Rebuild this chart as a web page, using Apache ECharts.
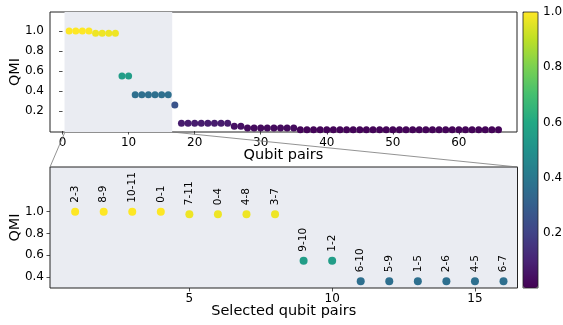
<!DOCTYPE html>
<html>
<head>
<meta charset="utf-8">
<script src="https://cdn.jsdelivr.net/npm/echarts@6/dist/echarts.min.js"></script>
<style>
  html, body { margin: 0; padding: 0; background: #fff; }
  #chart { width: 563px; height: 325px; }
</style>
</head>
<body>
<div id="chart"></div>
<script>
// QMI of every qubit pair, sorted from largest to smallest (pair index 1..66)
const qmiValues = [
  1.0, 1.0, 1.0, 1.0, 0.977, 0.977, 0.977, 0.977,
  0.55, 0.55,
  0.362, 0.362, 0.362, 0.362, 0.362, 0.362,
  0.26,
  0.078, 0.078, 0.078, 0.078, 0.078, 0.078, 0.078, 0.078,
  0.047, 0.047,
  0.03, 0.03, 0.03, 0.03, 0.03, 0.03, 0.03, 0.03,
  0.012, 0.012, 0.012, 0.012, 0.012, 0.012, 0.012, 0.012, 0.012, 0.012,
  0.012, 0.012, 0.012, 0.012, 0.012, 0.012, 0.012, 0.012, 0.012, 0.012,
  0.012, 0.012, 0.012, 0.012, 0.012, 0.012, 0.012, 0.012, 0.012, 0.012,
  0.012
];

// The 16 selected pairs shown in the lower panel
const selectedCount = 16;
const pairLabels = [
  '2-3', '8-9', '10-11', '0-1', '7-11', '0-4', '4-8', '3-7',
  '9-10', '1-2', '6-10', '5-9', '1-5', '2-6', '4-5', '6-7'
];

// Tick labels
const topXTicks = [0, 10, 20, 30, 40, 50, 60];
const topYTicks = [0.2, 0.4, 0.6, 0.8, 1.0];
const bottomXTicks = [5, 10, 15];
const bottomYTicks = [0.4, 0.6, 0.8, 1.0];
const colorbarTicks = [0.2, 0.4, 0.6, 0.8, 1.0];

// Highlighted range in the upper panel
const zoomRange = [0.3, 16.6];

const viridis = ['#440154', '#482475', '#414487', '#355f8d', '#2a788e',
  '#21918c', '#22a884', '#44bf70', '#7ad151', '#bddf26', '#fde725'];

const FONT = 'DejaVu Sans';
const AX = '#222';
const panelBg = '#eaecf2';
const TICK_FS = 12;
const NAME_FS = 14.5;

const topData = qmiValues.map((v, i) => [i + 1, v]);
const bottomData = qmiValues.slice(0, selectedCount).map((v, i) => [i + 1, v]);

const topRange = { xMin: -1.9, xMax: 68.8, yMin: -0.01, yMax: 1.19 };
const botRange = { xMin: 0.12, xMax: 16.49, yMin: 0.3, yMax: 1.41 };

function tickAxis(extra) {
  return Object.assign({
    type: 'value',
    splitLine: { show: false },
    axisLine: { show: false },
    nameMoveOverlap: false,
    nameTextStyle: { color: '#000', fontFamily: FONT, fontSize: NAME_FS }
  }, extra);
}
function ticks(values) {
  return { show: true, length: 3.5, customValues: values, lineStyle: { color: AX, width: 0.8 } };
}
function labels(values, margin, fmt) {
  const l = { color: '#000', fontFamily: FONT, fontSize: TICK_FS, margin: margin, customValues: values };
  if (fmt) l.formatter = fmt;
  return l;
}
const oneDecimal = v => v.toFixed(1);

const chart = echarts.init(document.getElementById('chart'), null, { renderer: 'canvas' });

const option = {
  animation: false,
  backgroundColor: '#fff',
  grid: [
    { left: 50, top: 12, width: 467, height: 120, show: true, outerBoundsMode: 'none',
      backgroundColor: '#fff', borderColor: AX, borderWidth: 1 },
    { left: 50, top: 167, width: 467.5, height: 121, show: true, outerBoundsMode: 'none',
      backgroundColor: panelBg, borderColor: AX, borderWidth: 1 },
    { left: 523, top: 12, width: 15, height: 276, show: true, z: 10, outerBoundsMode: 'none',
      backgroundColor: 'transparent', borderColor: AX, borderWidth: 0.8 }
  ],
  xAxis: [
    tickAxis({ gridIndex: 0, min: topRange.xMin, max: topRange.xMax,
      name: 'Qubit pairs', nameLocation: 'middle', nameGap: 16,
      axisTick: ticks(topXTicks), axisLabel: labels(topXTicks, 5) }),
    tickAxis({ gridIndex: 1, min: botRange.xMin, max: botRange.xMax,
      name: 'Selected qubit pairs', nameLocation: 'middle', nameGap: 16,
      axisTick: ticks(bottomXTicks), axisLabel: labels(bottomXTicks, 5) }),
    { type: 'value', gridIndex: 2, show: false, min: 0, max: 1 }
  ],
  yAxis: [
    tickAxis({ gridIndex: 0, min: topRange.yMin, max: topRange.yMax,
      name: 'QMI', nameLocation: 'middle', nameGap: 27,
      axisTick: ticks(topYTicks), axisLabel: labels(topYTicks, 6, oneDecimal) }),
    tickAxis({ gridIndex: 1, min: botRange.yMin, max: botRange.yMax,
      name: 'QMI', nameLocation: 'middle', nameGap: 27,
      axisTick: ticks(bottomYTicks), axisLabel: labels(bottomYTicks, 6, oneDecimal) }),
    tickAxis({ gridIndex: 2, min: 0, max: 1, position: 'right',
      axisTick: ticks(colorbarTicks), axisLabel: labels(colorbarTicks, 5, oneDecimal) })
  ],
  visualMap: {
    type: 'continuous',
    min: 0, max: 1,
    dimension: 1,
    seriesIndex: [0, 1],
    inRange: { color: viridis },
    orient: 'vertical',
    left: 523, top: 12,
    itemWidth: 15, itemHeight: 276,
    padding: 0,
    calculable: false,
    hoverLink: false,
    text: null
  },
  series: [
    {
      type: 'scatter',
      xAxisIndex: 0, yAxisIndex: 0,
      symbolSize: 7,
      itemStyle: { opacity: 1 },
      data: topData,
      clip: true,
      markArea: {
        silent: true,
        itemStyle: { color: panelBg, opacity: 1 },
        data: [[{ xAxis: zoomRange[0] }, { xAxis: zoomRange[1] }]]
      }
    },
    {
      type: 'scatter',
      xAxisIndex: 1, yAxisIndex: 1,
      symbolSize: 8,
      itemStyle: { opacity: 1 },
      data: bottomData,
      label: {
        show: true,
        position: 'top',
        distance: 5,
        rotate: 90,
        align: 'left',
        verticalAlign: 'middle',
        color: '#000',
        fontFamily: FONT,
        fontSize: 10.5,
        formatter: p => pairLabels[p.dataIndex]
      }
    }
  ]
};

chart.setOption(option);

// Connector lines from the highlighted range down to the lower panel's corners
const a = chart.convertToPixel({ gridIndex: 0 }, [zoomRange[0], topRange.yMin]);
const b = chart.convertToPixel({ gridIndex: 0 }, [zoomRange[1], topRange.yMin]);
const c = chart.convertToPixel({ gridIndex: 1 }, [botRange.xMin, botRange.yMax]);
const d = chart.convertToPixel({ gridIndex: 1 }, [botRange.xMax, botRange.yMax]);
const lineStyle = { stroke: '#777', lineWidth: 0.8 };
chart.setOption({
  graphic: [
    { type: 'line', z: 5, shape: { x1: a[0], y1: a[1] + 1, x2: c[0], y2: c[1] }, style: lineStyle, silent: true },
    { type: 'line', z: 5, shape: { x1: b[0], y1: b[1], x2: d[0], y2: d[1] }, style: lineStyle, silent: true }
  ]
});
</script>
</body>
</html>
